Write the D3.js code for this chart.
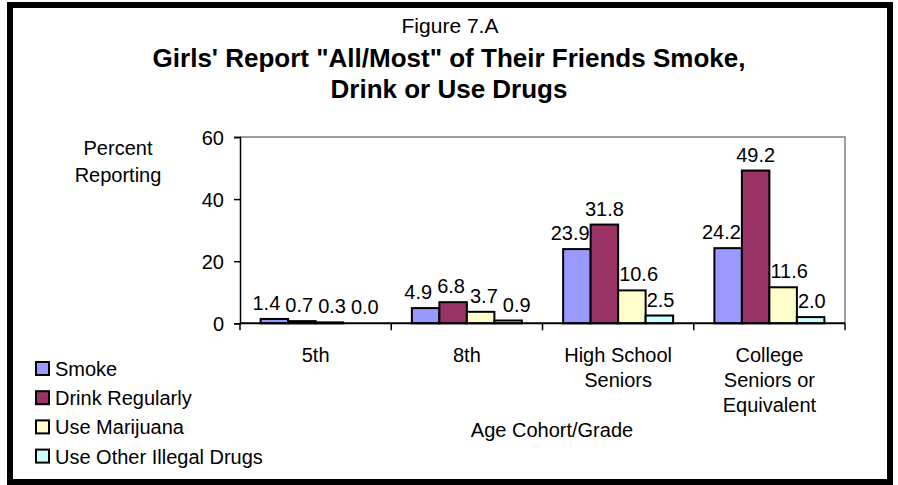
<!DOCTYPE html>
<html>
<head>
<meta charset="utf-8">
<script src="https://cdn.jsdelivr.net/npm/d3@7"></script>
<style>
  html, body { margin: 0; padding: 0; background: #fff; }
  svg text { font-family: "Liberation Sans", Arial, sans-serif; fill: #000; }
</style>
</head>
<body>
<svg id="chart" width="898" height="485"></svg>
<script>
// ---- data ----
const categories = ["5th", "8th", "High School\nSeniors", "College\nSeniors or\nEquivalent"];
const seriesNames = ["Smoke", "Drink Regularly", "Use Marijuana", "Use Other Illegal Drugs"];
const smoke = [1.4, 4.9, 23.9, 24.2];
const drinkRegularly = [0.7, 6.8, 31.8, 49.2];
const useMarijuana = [0.3, 3.7, 10.6, 11.6];
const useOtherDrugs = [0.0, 0.9, 2.5, 2.0];
const yTicks = [0, 20, 40, 60];
const seriesColors = ["#9999FF", "#993366", "#FFFFCC", "#CCFFFF"];

const seriesValues = [smoke, drinkRegularly, useMarijuana, useOtherDrugs];

const svg = d3.select("#chart");
svg.append("rect").attr("x", 0).attr("y", 0).attr("width", 898).attr("height", 485).attr("fill", "#fff");

// outer frame
svg.append("rect").attr("x", 10).attr("y", 5).attr("width", 880).attr("height", 477)
  .attr("fill", "none").attr("stroke", "#000").attr("stroke-width", 6);

// titles
svg.append("text").attr("x", 450).attr("y", 33).attr("text-anchor", "middle")
  .style("font-size", "21px").text("Figure 7.A");
svg.append("text").attr("x", 449).attr("y", 67).attr("text-anchor", "middle")
  .style("font-size", "26px").style("font-weight", "bold")
  .text("Girls' Report \"All/Most\" of Their Friends Smoke,");
svg.append("text").attr("x", 449).attr("y", 98).attr("text-anchor", "middle")
  .style("font-size", "26px").style("font-weight", "bold")
  .text("Drink or Use Drugs");

// scales
const plotL = 240, plotR = 845, plotT = 137, plotB = 323.3;
const x0 = d3.scaleBand().domain(categories).range([plotL, plotR]).paddingInner(0).paddingOuter(0);
const x1 = d3.scaleBand().domain(seriesNames).range([0, x0.bandwidth()]).paddingInner(0).paddingOuter(0.75);
const y = d3.scaleLinear().domain([0, 60]).range([plotB, plotT]);

// plot area frame (top and right, gray)
svg.append("path")
  .attr("d", `M${plotL},${plotT}H${plotR}V${plotB}`)
  .attr("fill", "none").attr("stroke", "#808080").attr("stroke-width", 1.5);

// bars
const groups = svg.append("g").selectAll("g").data(categories).join("g")
  .attr("transform", d => `translate(${x0(d)},0)`);

groups.selectAll("rect")
  .data((c, ci) => seriesNames.map((s, si) => ({ s, si, v: seriesValues[si][ci] })))
  .join("rect")
  .attr("x", d => x1(d.s))
  .attr("y", d => y(d.v))
  .attr("width", x1.bandwidth())
  .attr("height", d => y(0) - y(d.v))
  .attr("fill", d => seriesColors[d.si])
  .attr("stroke", "#000").attr("stroke-width", 2);

// y axis
const yAxis = svg.append("g").attr("transform", `translate(${plotL},0)`)
  .call(d3.axisLeft(y).tickValues(yTicks).tickSize(6).tickPadding(10).tickFormat(d3.format("d")));
yAxis.select(".domain").attr("stroke", "#000").attr("stroke-width", 1.5);
yAxis.selectAll(".tick line").attr("stroke", "#000").attr("stroke-width", 1.5);
yAxis.selectAll(".tick text").style("font-size", "20px").attr("font-family", null).attr("dy", "0.35em");

// x axis line + boundary ticks
svg.append("line").attr("x1", plotL).attr("x2", plotR).attr("y1", plotB).attr("y2", plotB)
  .attr("stroke", "#000").attr("stroke-width", 2);
const bounds = categories.map(c => x0(c)).concat([plotR]);
svg.append("g").selectAll("line").data(bounds).join("line")
  .attr("x1", d => d).attr("x2", d => d).attr("y1", plotB).attr("y2", plotB + 7)
  .attr("stroke", "#000").attr("stroke-width", 1.5);

// category labels
const catG = svg.append("g");
categories.forEach(c => {
  const t = catG.append("text").attr("text-anchor", "middle").style("font-size", "20px")
    .attr("x", x0(c) + x0.bandwidth() / 2).attr("y", 362);
  c.split("\n").forEach((line, i) => {
    t.append("tspan").attr("x", x0(c) + x0.bandwidth() / 2).attr("dy", i === 0 ? 0 : 25).text(line);
  });
});

// axis titles
svg.append("text").attr("x", 552).attr("y", 437).attr("text-anchor", "middle")
  .style("font-size", "20px").text("Age Cohort/Grade");
const yt = svg.append("text").attr("text-anchor", "middle").style("font-size", "20px");
yt.append("tspan").attr("x", 118).attr("y", 155).text("Percent");
yt.append("tspan").attr("x", 118).attr("y", 182).text("Reporting");

// value labels, nudged sideways to avoid neighbouring bars and each other
const labelLayer = svg.append("g");
categories.forEach((c, ci) => {
  const bars = seriesNames.map((s, si) => ({
    x0: x0(c) + x1(s) - 1, x1: x0(c) + x1(s) + x1.bandwidth() + 1,
    top: y(seriesValues[si][ci]) - 1
  }));
  const items = seriesNames.map((s, si) => {
    const v = seriesValues[si][ci];
    const t = labelLayer.append("text").attr("text-anchor", "middle").style("font-size", "20px")
      .text(d3.format(".1f")(v));
    const w = t.node().getComputedTextLength();
    const cx = x0(c) + x1(s) + x1.bandwidth() / 2;
    const base = y(v) - 9;
    return { t, w, cx, base, si };
  });
  // avoid bars
  items.forEach(it => {
    bars.forEach((b, bi) => {
      if (bi === it.si) return;
      if (b.top >= it.base) return;
      const l = it.cx - it.w / 2, r = it.cx + it.w / 2;
      if (r > b.x0 && l < b.x1) {
        if (bi > it.si) it.cx -= (r - b.x0);
        else it.cx += (b.x1 - l);
      }
    });
  });
  // avoid each other
  const pad = 5;
  for (let iter = 0; iter < 60; iter++) {
    for (let i = 0; i < items.length - 1; i++) {
      const a = items[i], b = items[i + 1];
      const vOverlap = Math.abs(a.base - b.base) < 15;
      const need = (a.w + b.w) / 2 + pad;
      const dist = b.cx - a.cx;
      if (vOverlap && dist < need) {
        const sh = (need - dist) / 2;
        a.cx -= sh; b.cx += sh;
      }
    }
  }
  items.forEach(d => d.t.attr("x", d.cx).attr("y", d.base));
});

// legend
const legend = svg.append("g");
seriesNames.forEach((s, i) => {
  const cy = 369 + i * 29.2;
  legend.append("rect").attr("x", 36).attr("y", cy - 7).attr("width", 13).attr("height", 13)
    .attr("fill", seriesColors[i]).attr("stroke", "#000").attr("stroke-width", 2);
  legend.append("text").attr("x", 55).attr("y", cy + 7).style("font-size", "20px").text(s);
});
</script>
</body>
</html>
